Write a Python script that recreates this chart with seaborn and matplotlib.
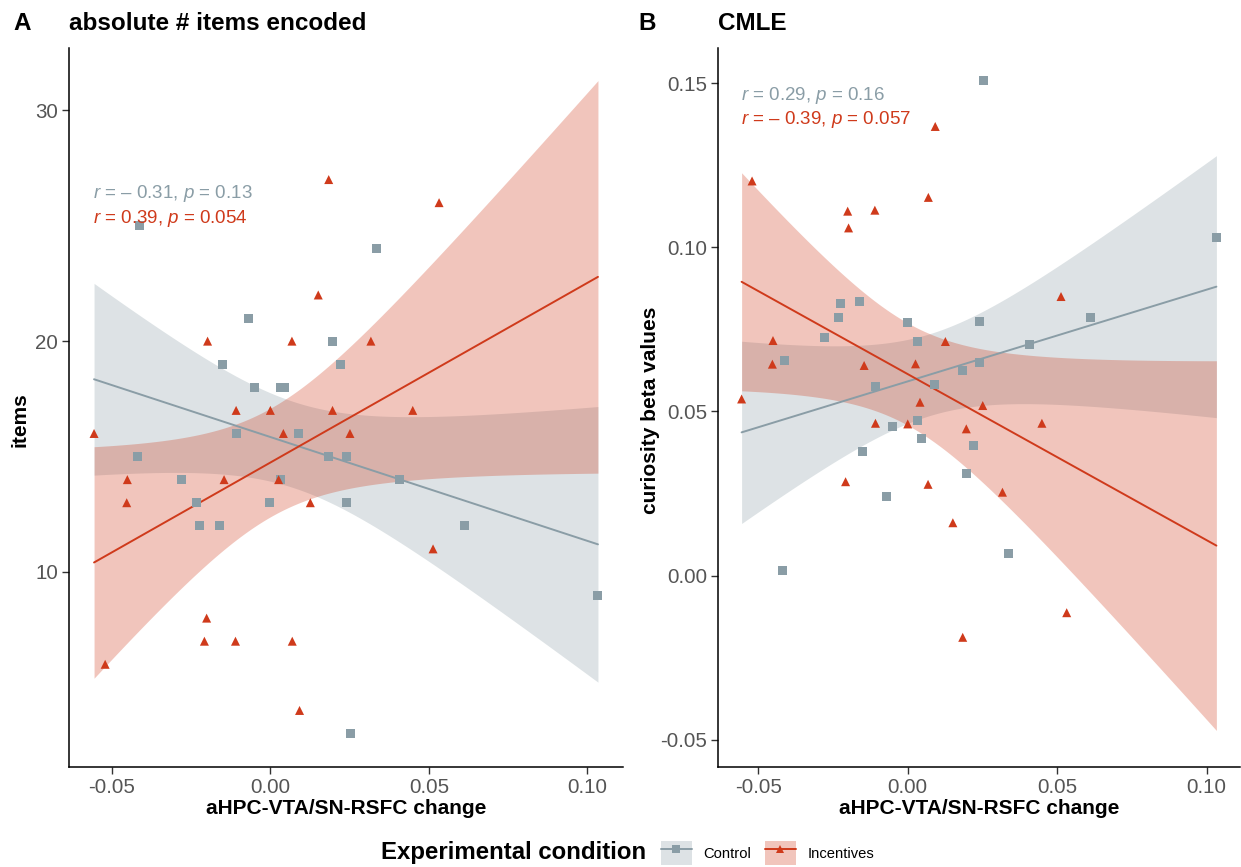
import numpy as np
import pandas as pd
import matplotlib
matplotlib.use("Agg")
import matplotlib.pyplot as plt
import seaborn as sns
from matplotlib.lines import Line2D
from matplotlib.patches import Patch
from matplotlib.ticker import FormatStrFormatter

# ---------------- data ----------------
ctrl_x = [-0.0414, -0.0070, 0.0197, -0.0150, 0.0221, -0.0050, 0.0033, 0.0045, -0.0108, 0.0090,
          -0.0419, 0.0182, 0.0239, -0.0280, 0.0033, -0.0232, -0.0002, 0.0240, -0.0224, -0.0161,
          0.0254, 0.0336, 0.0407, 0.0611, 0.1033]
ctrl_items = [25, 21, 20, 19, 19, 18, 18, 18, 16, 16,
              15, 15, 15, 14, 14, 13, 13, 13, 12, 12,
              3, 24, 14, 12, 9]
ctrl_beta = [0.0654, 0.0242, 0.0311, 0.0378, 0.0397, 0.0453, 0.0713, 0.0418, 0.0577, 0.0583,
             0.0016, 0.0625, 0.0649, 0.0724, 0.0472, 0.0785, 0.0770, 0.0773, 0.0828, 0.0836,
             0.1507, 0.0066, 0.0704, 0.0785, 0.1029]

inc_x = [0.0184, 0.0151, -0.0198, 0.0068, -0.0108, 0.0000, 0.0196, -0.0556, 0.0041, 0.0251,
         -0.0451, -0.0146, 0.0026, -0.0453, 0.0126, -0.0201, -0.0208, -0.0110, 0.0069, -0.0521,
         0.0092, 0.0532, 0.0317, 0.0449, 0.0513]
inc_items = [27, 22, 20, 20, 17, 17, 17, 16, 16, 16,
             14, 14, 14, 13, 13, 8, 7, 7, 7, 6,
             4, 26, 20, 17, 11]
inc_beta = [-0.0188, 0.0161, 0.1059, 0.0278, 0.0464, 0.0462, 0.0447, 0.0538, 0.0528, 0.0518,
            0.0716, 0.0640, 0.0645, 0.0644, 0.0713, 0.1110, 0.0286, 0.1113, 0.1152, 0.1202,
            0.1368, -0.0113, 0.0254, 0.0464, 0.0850]

conditions = ["Control", "Incentives"]
panel_letters = ["A", "B"]
panel_titles = ["absolute # items encoded", "CMLE"]
y_labels = ["items", "curiosity beta values"]
x_label = "aHPC-VTA/SN-RSFC change"
legend_title = "Experimental condition"
stats_A = ["$r$ = \u2013 0.31, $p$ = 0.13", "$r$ = 0.39, $p$ = 0.054"]
stats_B = ["$r$ = 0.29, $p$ = 0.16", "$r$ = \u2013 0.39, $p$ = 0.057"]
x_ticks = [-0.05, 0.00, 0.05, 0.10]
yA_ticks = [10, 20, 30]
yB_ticks = [-0.05, 0.00, 0.05, 0.10, 0.15]

df = pd.DataFrame({
    "x": ctrl_x + inc_x,
    "items": ctrl_items + inc_items,
    "beta": ctrl_beta + inc_beta,
    "cond": ["Control"] * len(ctrl_x) + ["Incentives"] * len(inc_x),
})

# ---------------- style ----------------
sns.set_theme(style="ticks")
plt.rcParams['font.family'] = ['Liberation Sans', 'DejaVu Sans']
plt.rcParams['mathtext.fontset'] = 'custom'
plt.rcParams['mathtext.it'] = 'Liberation Sans:italic'
plt.rcParams['mathtext.rm'] = 'Liberation Sans'
plt.rcParams['axes.unicode_minus'] = False
plt.rcParams['text.color'] = 'black'

GRAY = "#8A9DA6"
RED = "#CF3A1B"
colors = {"Control": GRAY, "Incentives": RED}
markers = {"Control": "s", "Incentives": "^"}
FILL_ALPHA = 0.29
T_CRIT = 2.069  # t(0.975, df=23)

W, H = 1241, 867
fig = plt.figure(figsize=(W / 100, H / 100), dpi=100)
axA = fig.add_axes([69 / W, 1 - 767 / H, (623 - 69) / W, (767 - 48) / H])
axB = fig.add_axes([718 / W, 1 - 767 / H, (1240 - 718) / W, (767 - 48) / H])


def draw(ax, ycol):
    xmin, xmax = df["x"].min(), df["x"].max()
    grid = np.linspace(xmin, xmax, 200)
    for cond in conditions:
        sub = df[df["cond"] == cond]
        x = sub["x"].to_numpy()
        y = sub[ycol].to_numpy(dtype=float)
        n = len(x)
        b1, b0 = np.polyfit(x, y, 1)
        fit = b0 + b1 * grid
        resid = y - (b0 + b1 * x)
        s = np.sqrt(np.sum(resid ** 2) / (n - 2))
        sxx = np.sum((x - x.mean()) ** 2)
        se = s * np.sqrt(1 / n + (grid - x.mean()) ** 2 / sxx)
        ax.fill_between(grid, fit - T_CRIT * se, fit + T_CRIT * se,
                        color=colors[cond], alpha=FILL_ALPHA, lw=0, zorder=1)
        sns.lineplot(x=grid, y=fit, color=colors[cond], lw=1.4, ax=ax, zorder=2)
    sns.scatterplot(data=df, x="x", y=ycol, hue="cond", style="cond",
                    palette=colors, markers=markers, s=42, edgecolor="none",
                    legend=False, ax=ax, zorder=3)
    ax.set_xlim(-0.0635, 0.1112)
    ax.set_xticks(x_ticks)
    ax.xaxis.set_major_formatter(FormatStrFormatter("%.2f"))
    ax.set_xlabel("")
    ax.set_ylabel("")
    for sp in ["top", "right"]:
        ax.spines[sp].set_visible(False)
    for sp in ["left", "bottom"]:
        ax.spines[sp].set_linewidth(1.1)
        ax.spines[sp].set_color("black")
    ax.tick_params(axis="both", length=5, width=1.0, color="#333333",
                   labelcolor="#555555", labelsize=14.8, pad=3)


draw(axA, "items")
axA.set_ylim(1.55, 32.7)
axA.set_yticks(yA_ticks)

draw(axB, "beta")
axB.set_ylim(-0.0583, 0.1607)
axB.set_yticks(yB_ticks)
axB.yaxis.set_major_formatter(FormatStrFormatter("%.2f"))

# correlation annotations
for ax, stats, ys in [(axA, stats_A, (26.4, 25.3)), (axB, stats_B, (0.1462, 0.1390))]:
    for txt, yy, cond in zip(stats, ys, conditions):
        ax.text(-0.0558, yy, txt, color=colors[cond], fontsize=13.5,
                ha="left", va="center", zorder=4)

# titles and labels
fig.text(13 / W, 1 - 24 / H, panel_letters[0], fontsize=17.5, fontweight="bold", va="center", ha="left")
fig.text(69 / W, 1 - 24 / H, panel_titles[0], fontsize=17.5, fontweight="bold", va="center", ha="left")
fig.text(638 / W, 1 - 24 / H, panel_letters[1], fontsize=17.5, fontweight="bold", va="center", ha="left")
fig.text(718 / W, 1 - 24 / H, panel_titles[1], fontsize=17.5, fontweight="bold", va="center", ha="left")

fig.text(346 / W, 1 - 808 / H, x_label, fontsize=15, fontweight="bold", ha="center", va="center")
fig.text(979 / W, 1 - 808 / H, x_label, fontsize=15, fontweight="bold", ha="center", va="center")
fig.text(20 / W, 1 - 420 / H, y_labels[0], fontsize=15, fontweight="bold", rotation=90,
         ha="center", va="center")
fig.text(650 / W, 1 - 410 / H, y_labels[1], fontsize=15, fontweight="bold", rotation=90,
         ha="center", va="center")

# legend
fig.text(381 / W, 1 - 853 / H, legend_title, fontsize=17.3, fontweight="bold", ha="left", va="center")
handles = []
for cond in conditions:
    patch = Patch(facecolor=colors[cond], alpha=FILL_ALPHA, edgecolor="none")
    line = Line2D([], [], color=colors[cond], lw=1.4, marker=markers[cond],
                  markersize=6, markeredgewidth=0)
    handles.append((patch, line))
fig.legend(handles, conditions, loc="center left", bbox_to_anchor=(661 / W, 1 - 853 / H),
           ncol=2, frameon=False, fontsize=10.6, handlelength=2.1, handleheight=2.1,
           handletextpad=0.8, columnspacing=0.9, borderaxespad=0, borderpad=0)

fig.savefig("out.png", dpi=100)
